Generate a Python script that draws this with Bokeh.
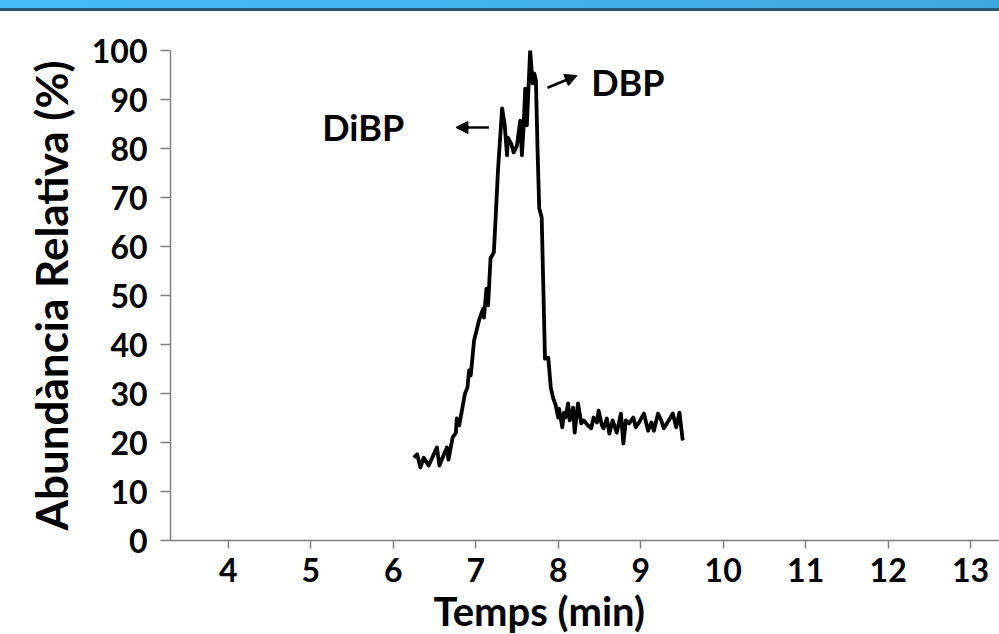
from bokeh.plotting import figure
from bokeh.models import (Range1d, FixedTicker, Label, Arrow, NormalHead, Div, ColumnDataSource, Title)
from bokeh.layouts import column
from bokeh.embed import file_html
from bokeh.resources import INLINE

# Chromatogram trace: retention time (min) and relative abundance (%)
time_min = [6.25, 6.29, 6.33, 6.37, 6.43, 6.53, 6.56, 6.65, 6.67, 6.72, 6.76, 6.77, 6.80, 6.87,
            6.90, 6.92, 6.94, 6.98, 7.04, 7.09, 7.10, 7.13, 7.15, 7.18, 7.22, 7.24, 7.27, 7.32,
            7.35, 7.38, 7.39, 7.43, 7.46, 7.50, 7.54, 7.56, 7.58, 7.60, 7.62, 7.66, 7.69, 7.71,
            7.73, 7.75, 7.77, 7.80, 7.84, 7.88, 7.91, 7.94, 7.97, 8.00, 8.01, 8.05, 8.07, 8.09,
            8.12, 8.14, 8.18, 8.20, 8.24, 8.28, 8.31, 8.36, 8.40, 8.43, 8.47, 8.49, 8.53, 8.55,
            8.59, 8.62, 8.66, 8.71, 8.76, 8.79, 8.82, 8.86, 8.91, 8.94, 8.98, 9.04, 9.09, 9.13,
            9.16, 9.21, 9.25, 9.28, 9.34, 9.39, 9.43, 9.47, 9.51]
abundance = [16.9, 17.6, 14.9, 16.9, 15.3, 19.0, 15.3, 19.0, 16.5, 21.0, 22.0, 24.9, 23.5, 30.0,
             31.2, 34.7, 33.7, 40.8, 44.9, 47.3, 45.5, 51.4, 48.0, 57.6, 58.8, 65.3, 75.5, 88.2,
             85.1, 78.6, 82.2, 81.0, 79.2, 80.6, 85.7, 78.6, 84.3, 92.2, 84.7, 100.0, 93.3, 95.3,
             93.9, 79.6, 67.8, 65.9, 37.1, 37.3, 31.2, 29.0, 27.6, 25.1, 26.9, 23.1, 26.1, 25.1,
             28.0, 24.5, 27.1, 22.0, 28.0, 23.9, 24.5, 23.5, 22.9, 25.1, 24.1, 26.5, 23.5, 22.9,
             24.9, 21.8, 24.5, 22.0, 25.9, 19.8, 24.5, 23.9, 25.1, 23.1, 24.1, 25.9, 22.4, 24.1,
             22.4, 25.9, 24.5, 22.9, 24.5, 25.9, 23.1, 26.1, 20.4]

x_ticks = [4, 5, 6, 7, 8, 9, 10, 11, 12, 13]
y_ticks = [0, 10, 20, 30, 40, 50, 60, 70, 80, 90, 100]

# Peak annotations: label, text position, arrow start/end
ann_labels = ["DiBP", "DBP"]
ann_x = [5.14, 8.40]
ann_y = [84.3, 93.5]
arrow_start = [(7.16, 84.3), (7.87, 92.4)]
arrow_end = [(6.76, 84.3), (8.23, 94.9)]

FONT = "Lato"

header = Div(width=999, height=11,
             styles={"background": "linear-gradient(to bottom, rgba(0,0,0,0) 0px, rgba(0,0,0,0) 8px, #2B5870 8px, #2B5870 11px), linear-gradient(to right, #47BCF6, #3DA8DF)",
                     "margin": "0", "padding": "0"})

p = figure(width=999, height=623, output_backend="svg", toolbar_location=None,
           x_range=Range1d(3.3, 13.35), y_range=Range1d(0, 100),
           min_border_left=170, min_border_right=0, min_border_top=39, min_border_bottom=10)
p.outline_line_color = None
p.xgrid.visible = False
p.ygrid.visible = False
p.background_fill_color = "white"

src = ColumnDataSource(dict(x=time_min, y=abundance))
p.line("x", "y", source=src, line_color="black", line_width=3.8, line_join="round")

for ax in (p.xaxis[0], p.yaxis[0]):
    ax.axis_line_color = "#808080"
    ax.axis_line_width = 1.5
    ax.major_tick_line_color = "#808080"
    ax.major_tick_line_width = 1.5
    ax.minor_tick_line_color = None
    ax.major_tick_in = 0
    ax.major_label_text_font = FONT
    ax.major_label_text_font_style = "bold"
    ax.major_label_text_color = "black"
    ax.major_label_text_font_size = "32px"

p.xaxis[0].ticker = FixedTicker(ticks=x_ticks)
p.yaxis[0].ticker = FixedTicker(ticks=y_ticks)
p.xaxis[0].major_tick_out = 8
p.xaxis[0].major_label_standoff = 9
p.yaxis[0].major_tick_out = 10
p.yaxis[0].major_label_standoff = 13

p.yaxis[0].axis_label = "Abundància Relativa (%)"
p.yaxis[0].axis_label_text_font = FONT
p.yaxis[0].axis_label_text_font_style = "bold"
p.yaxis[0].axis_label_text_font_size = "44px"
p.yaxis[0].axis_label_text_color = "black"
p.yaxis[0].axis_label_standoff = 12

xtitle = Title(text="Temps (min)", align="left", offset=263, standoff=0,
               text_font=FONT, text_font_style="bold", text_font_size="40px",
               text_color="black")
p.add_layout(xtitle, "below")

for lab, tx, ty in zip(ann_labels, ann_x, ann_y):
    p.add_layout(Label(x=tx, y=ty, text=lab, text_align="left", text_baseline="middle",
                       text_font=FONT, text_font_style="bold", text_font_size="36px",
                       text_color="black"))

for (sx, sy), (ex, ey) in zip(arrow_start, arrow_end):
    p.add_layout(Arrow(x_start=sx, y_start=sy, x_end=ex, y_end=ey, line_width=2.5,
                       line_color="black",
                       end=NormalHead(size=12, fill_color="black", line_color="black")))

layout = column(header, p, spacing=0)
open("out.html", "w").write(file_html(layout, INLINE))
